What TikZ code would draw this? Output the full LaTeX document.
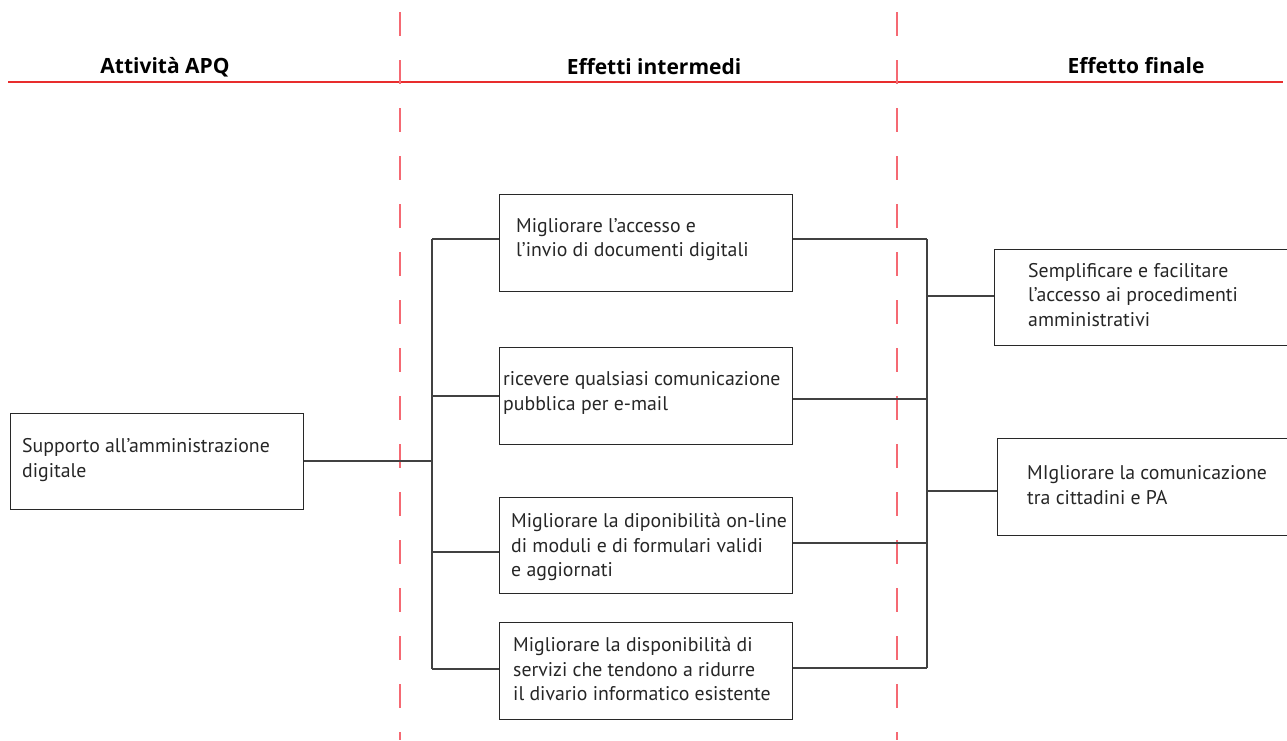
\documentclass[tikz,border=0pt]{standalone}
\usepackage{fontspec}
\setmainfont{PT Sans}
\newfontfamily\hdrfont{Open Sans}
\definecolor{hdrred}{RGB}{232,45,45}
\definecolor{dashred}{RGB}{245,105,115}
\definecolor{boxline}{RGB}{40,40,40}
\definecolor{conline}{RGB}{65,65,65}
\begin{document}
\begin{tikzpicture}[x=1pt,y=-1pt,
  boxnode/.style={draw=boxline, line width=1.4pt, anchor=north west, inner sep=0pt},
  txt/.style={anchor=west, align=left, inner sep=0pt, font=\fontsize{19.8}{24.5}\selectfont, text=black!85},
  hdr/.style={inner sep=0pt, font=\hdrfont\bfseries\fontsize{21}{22}\selectfont},
  conn/.style={draw=conline, line width=1.3pt},
  sepline/.style={draw=dashred, line width=2pt, dash pattern=on 24pt off 24pt}]
\useasboundingbox (0,0) rectangle (1287,740);

% header
\node[hdr] (h1) at (165,67) {Attività APQ};
\node[hdr] (h2) at (654,67) {Effetti intermedi};
\node[hdr] (h3) at (1136,66) {Effetto finale};
\coordinate (hl) at (8,82);
\coordinate (hr) at (1283,82);
\draw[draw=hdrred, line width=1.3pt] (hl) -- (hr);

% separators
\coordinate (s1t) at (400,12);
\coordinate (s1b) at (400,740);
\coordinate (s2t) at (897,12);
\coordinate (s2b) at (897,740);
\draw[sepline] (s1t) -- (s1b);
\draw[sepline] (s2t) -- (s2b);

% boxes
\node[boxnode, minimum width=293pt, minimum height=96pt] (L) at (10,413) {};
\node[boxnode, minimum width=293pt, minimum height=97pt] (M1) at (499,194) {};
\node[boxnode, minimum width=293pt, minimum height=97pt] (M2) at (499,347) {};
\node[boxnode, minimum width=293pt, minimum height=96pt] (M3) at (499,497) {};
\node[boxnode, minimum width=293pt, minimum height=97pt] (M4) at (499,622) {};
\node[boxnode, minimum width=293pt, minimum height=96pt] (R1) at (994,249) {};
\node[boxnode, minimum width=290pt, minimum height=97pt] (R2) at (997,438) {};

% texts
\node[txt] (tL) at (22,460) {Supporto all’amministrazione\\digitale};
\node[txt] (tM1) at (516,239.5) {Migliorare l’accesso e\\l’invio di documenti digitali};
\node[txt] (tM2) at (503,393) {ricevere qualsiasi comunicazione\\pubblica per e-mail};
\node[txt] (tM3) at (511,547) {Migliorare la diponibilità on-line\\di moduli e di formulari validi\\e aggiornati};
\node[txt] (tM4) at (513,669) {Migliorare la disponibilità di\\servizi che tendono a ridurre\\il divario informatico esistente};
\node[txt] (tR1) at (1028,295) {Semplificare e facilitare\\l’accesso ai procedimenti\\amministrativi};
\node[txt] (tR2) at (1027,485) {MIgliorare la comunicazione\\tra cittadini e PA};

% left bracket
\coordinate (lv0) at (432,461);
\coordinate (lv1) at (432,239);
\coordinate (lv2) at (432,396);
\coordinate (lv3) at (432,552);
\coordinate (lv4) at (432,669);
\draw[conn] (L.east |- lv0) -- (lv0);
\draw[conn] (lv1) -- (lv4);
\draw[conn] (lv1) -- (lv1 -| M1.west);
\draw[conn] (lv2) -- (lv2 -| M2.west);
\draw[conn] (lv3) -- (lv3 -| M3.west);
\draw[conn] (lv4) -- (lv4 -| M4.west);

% right bracket
\coordinate (rv1) at (927,239);
\coordinate (rv2) at (927,399);
\coordinate (rv3) at (927,543);
\coordinate (rv4) at (927,668);
\coordinate (ro1) at (927,296);
\coordinate (ro2) at (927,491);
\draw[conn] (rv1) -- (rv4);
\draw[conn] (rv1 -| M1.east) -- (rv1);
\draw[conn] (rv2 -| M2.east) -- (rv2);
\draw[conn] (rv3 -| M3.east) -- (rv3);
\draw[conn] (rv4 -| M4.east) -- (rv4);
\draw[conn] (ro1) -- (ro1 -| R1.west);
\draw[conn] (ro2) -- (ro2 -| R2.west);
\end{tikzpicture}
\end{document}
